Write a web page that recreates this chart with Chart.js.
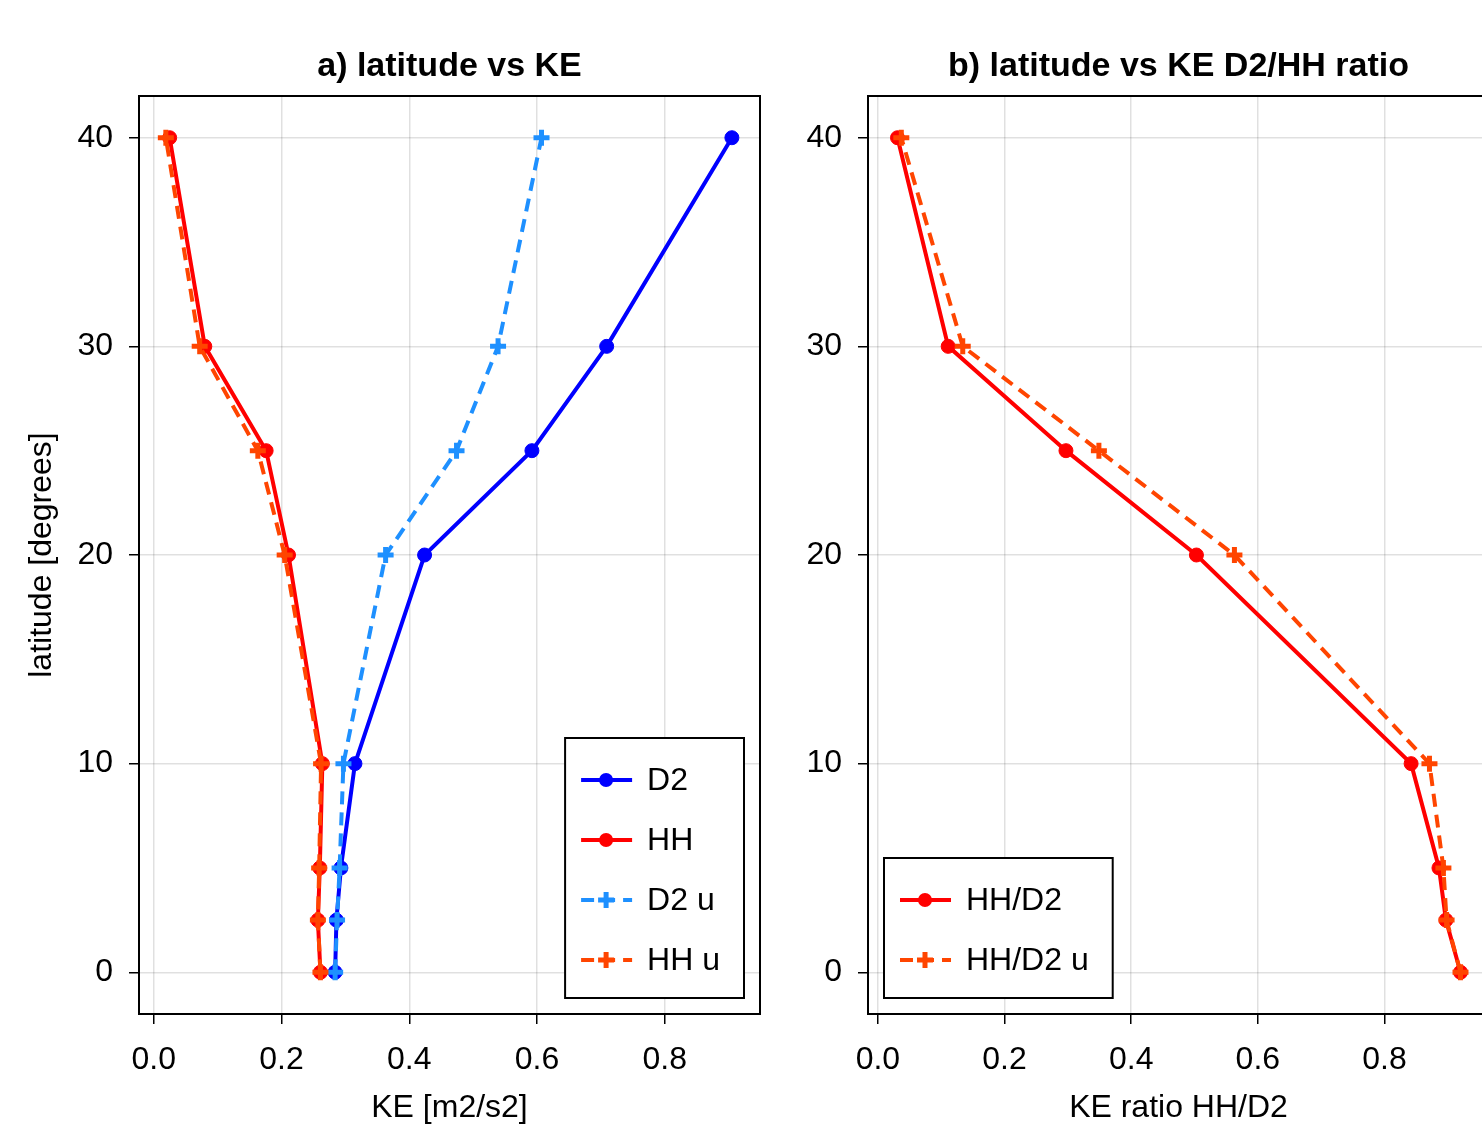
<!DOCTYPE html>
<html>
<head>
<meta charset="utf-8">
<script src="https://cdn.jsdelivr.net/npm/chart.js@4.4.1/dist/chart.umd.min.js"></script>
<style>
  html, body { margin: 0; padding: 0; background: #fff; overflow: hidden; }
  body { width: 1482px; height: 1129px; position: relative; }
  canvas { position: absolute; top: 0; }
  #chart-ke    { left: 0; }
  #chart-ratio { left: 770px; }
</style>
</head>
<body>
<canvas id="chart-ke" width="770" height="1129"></canvas>
<canvas id="chart-ratio" width="730" height="1129"></canvas>
<script>
// ── Data ──────────────────────────────────────────────────────────────────────
const LATS     = [0, 2.5, 5, 10, 20, 25, 30, 40];
const KE_D2    = [0.284, 0.286, 0.293, 0.315, 0.424, 0.592, 0.709, 0.905];
const KE_HH    = [0.261, 0.257, 0.260, 0.264, 0.211, 0.176, 0.080, 0.025];
const KE_D2_U  = [0.284, 0.287, 0.291, 0.297, 0.363, 0.474, 0.539, 0.607];
const KE_HH_U  = [0.261, 0.257, 0.259, 0.262, 0.205, 0.163, 0.072, 0.019];
const RATIO    = [0.920, 0.897, 0.886, 0.842, 0.503, 0.297, 0.111, 0.031];
const RATIO_U  = [0.920, 0.898, 0.893, 0.871, 0.563, 0.349, 0.134, 0.037];

const X_TICKS = [0, 0.2, 0.4, 0.6, 0.8];
const Y_TICKS = [0, 10, 20, 30, 40];

const FONT = "'Liberation Sans', Arial, Helvetica, sans-serif";
const BLUE = "#0000ff", RED = "#ff0000", DODGER = "#1e90ff", ORANGE = "#ff4500";
const DASH = [13, 8];

// ── Helpers ───────────────────────────────────────────────────────────────────

function points(xs) {
  return xs.map((x, i) => ({ x, y: LATS[i] }));
}

function series(label, xs, color, dashed, order) {
  return {
    label,
    data: points(xs),
    showLine: true,
    borderColor: color,
    backgroundColor: color,
    borderWidth: 4,
    borderDash: dashed ? DASH : [],
    pointStyle: dashed ? "cross" : "circle",
    pointRadius: dashed ? 8 : 7,
    pointBorderWidth: dashed ? 5 : 1,
    pointHoverRadius: dashed ? 8 : 7,
    order,
  };
}

// Black frame around the plot area (Makie-style box)
const frame = {
  id: "frame",
  afterDatasetsDraw(chart) {
    const { ctx, chartArea: a } = chart;
    ctx.save();
    ctx.strokeStyle = "#000";
    ctx.lineWidth = 2;
    ctx.strokeRect(a.left, a.top, a.right - a.left, a.bottom - a.top);
    ctx.restore();
  },
};

// Legend box drawn inside the plot area
const insideLegend = {
  id: "insideLegend",
  afterDraw(chart, args, opts) {
    const { ctx, chartArea: a } = chart;
    const sets = chart.data.datasets;
    ctx.save();
    ctx.font = `32px ${FONT}`;
    const textW = Math.max(...sets.map(d => ctx.measureText(d.label).width));
    const w = 82 + textW + 24;
    const h = 80 + (sets.length - 1) * 60;
    const x = opts.corner === "right" ? a.right - 16 - w : a.left + 16;
    const y = a.bottom - 16 - h;

    ctx.fillStyle = "#fff";
    ctx.fillRect(x, y, w, h);
    ctx.strokeStyle = "#000";
    ctx.lineWidth = 2;
    ctx.strokeRect(x, y, w, h);

    sets.forEach((d, i) => {
      const cy = y + 42 + i * 60;
      ctx.strokeStyle = d.borderColor;
      ctx.fillStyle = d.borderColor;
      ctx.lineWidth = 4;
      ctx.setLineDash(d.borderDash);
      ctx.beginPath();
      ctx.moveTo(x + 16, cy);
      ctx.lineTo(x + 67, cy);
      ctx.stroke();
      ctx.setLineDash([]);
      const mx = x + 41;
      if (d.pointStyle === "circle") {
        ctx.beginPath();
        ctx.arc(mx, cy, 7, 0, Math.PI * 2);
        ctx.fill();
      } else {
        ctx.lineWidth = 5;
        ctx.beginPath();
        ctx.moveTo(mx - 8, cy); ctx.lineTo(mx + 8, cy);
        ctx.moveTo(mx, cy - 8); ctx.lineTo(mx, cy + 8);
        ctx.stroke();
      }
      ctx.fillStyle = "#000";
      ctx.textBaseline = "middle";
      ctx.fillText(d.label, x + 82, cy + 1);
    });
    ctx.restore();
  },
};

function axes(xMin, xMax, xTitle, yWidth, yTitle) {
  const grid = {
    color: "rgba(0,0,0,0.12)",
    lineWidth: 1.5,
    tickColor: "#000",
    tickLength: 10,
    tickWidth: 1.5,
  };
  return {
    x: {
      type: "linear",
      min: xMin,
      max: xMax,
      afterBuildTicks: s => { s.ticks = X_TICKS.map(v => ({ value: v })); },
      // fixed axis height; drop the label overhang padding Chart.js adds
      afterFit: s => { s.height = 115; s.paddingLeft = 0; s.paddingRight = 0; },
      grid,
      border: { color: "#000", width: 2 },
      ticks: {
        color: "#000",
        font: { family: FONT, size: 32 },
        padding: 17,
        maxRotation: 0,
        callback: v => v.toFixed(1),
      },
      title: {
        display: true,
        text: xTitle,
        color: "#000",
        font: { family: FONT, size: 32 },
        padding: { top: 0, bottom: 2 },
      },
    },
    y: {
      type: "linear",
      min: -2,
      max: 42,
      afterBuildTicks: s => { s.ticks = Y_TICKS.map(v => ({ value: v })); },
      afterFit: s => { s.width = yWidth; s.paddingTop = 0; s.paddingBottom = 0; },
      grid,
      border: { color: "#000", width: 2 },
      ticks: {
        color: "#000",
        font: { family: FONT, size: 32 },
        padding: 16,
        callback: v => String(v),
      },
      title: {
        display: !!yTitle,
        text: yTitle || "",
        color: "#000",
        font: { family: FONT, size: 32 },
        padding: { top: 23, bottom: 0 },
      },
    },
  };
}

function titleOpts(text) {
  return {
    display: true,
    text,
    fullSize: false,
    color: "#000",
    font: { family: FONT, size: 34, weight: "bold" },
    padding: { top: 46, bottom: 9.2 },
  };
}

// ── Charts ────────────────────────────────────────────────────────────────────

new Chart(document.getElementById("chart-ke"), {
  type: "scatter",
  data: {
    datasets: [
      series("D2",   KE_D2,   BLUE,   false, 4),
      series("HH",   KE_HH,   RED,    false, 3),
      series("D2 u", KE_D2_U, DODGER, true,  2),
      series("HH u", KE_HH_U, ORANGE, true,  1),
    ],
  },
  options: {
    responsive: false,
    animation: false,
    // autoPadding would reserve room for the point markers at the edges
    layout: { autoPadding: false, padding: { left: 0, right: 10, top: 0, bottom: 0 } },
    scales: axes(-0.023, 0.949, "KE [m2/s2]", 139, "latitude [degrees]"),
    plugins: {
      legend: { display: false },
      tooltip: { enabled: false },
      title: titleOpts("a) latitude vs KE"),
      insideLegend: { corner: "right" },
    },
  },
  plugins: [frame, insideLegend],
});

new Chart(document.getElementById("chart-ratio"), {
  type: "scatter",
  data: {
    datasets: [
      series("HH/D2",   RATIO,   RED,    false, 2),
      series("HH/D2 u", RATIO_U, ORANGE, true,  1),
    ],
  },
  options: {
    responsive: false,
    animation: false,
    layout: { autoPadding: false, padding: { left: 0, right: 11, top: 0, bottom: 0 } },
    scales: axes(-0.0156, 0.965, "KE ratio HH/D2", 98, null),
    plugins: {
      legend: { display: false },
      tooltip: { enabled: false },
      title: titleOpts("b) latitude vs KE D2/HH ratio"),
      insideLegend: { corner: "left" },
    },
  },
  plugins: [frame, insideLegend],
});
</script>
</body>
</html>
